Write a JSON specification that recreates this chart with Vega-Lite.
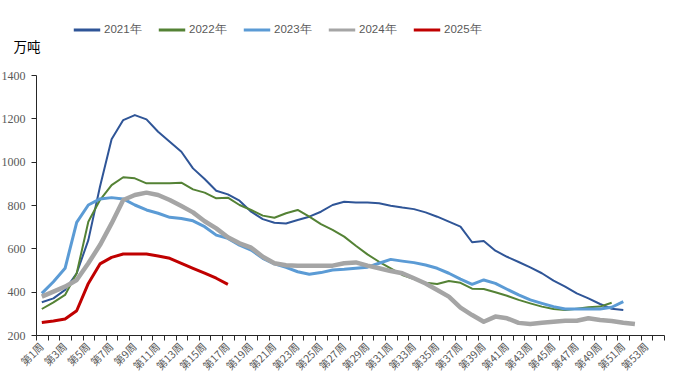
{
  "$schema": "https://vega.github.io/schema/vega-lite/v6.json",
  "width": 628,
  "height": 260,
  "autosize": {"type": "none"},
  "padding": {"left": 36, "top": 75, "right": 14, "bottom": 50},
  "background": "white",
  "data": {"values": [
    {"w":"第1周","2021年":351,"2022年":320,"2023年":392,"2024年":377,"2025年":258},
    {"w":"第2周","2021年":369,"2022年":351,"2023年":446,"2024年":400,"2025年":265},
    {"w":"第3周","2021年":408,"2022年":385,"2023年":508,"2024年":423,"2025年":274},
    {"w":"第4周","2021年":485,"2022年":485,"2023年":720,"2024年":454,"2025年":312},
    {"w":"第5周","2021年":638,"2022年":723,"2023年":800,"2024年":531,"2025年":438},
    {"w":"第6周","2021年":884,"2022年":823,"2023年":828,"2024年":615,"2025年":528},
    {"w":"第7周","2021年":1103,"2022年":892,"2023年":834,"2024年":715,"2025年":558},
    {"w":"第8周","2021年":1192,"2022年":928,"2023年":828,"2024年":823,"2025年":574},
    {"w":"第9周","2021年":1215,"2022年":923,"2023年":800,"2024年":846,"2025年":574},
    {"w":"第10周","2021年":1195,"2022年":900,"2023年":777,"2024年":857,"2025年":574},
    {"w":"第11周","2021年":1138,"2022年":900,"2023年":762,"2024年":846,"2025年":565},
    {"w":"第12周","2021年":1092,"2022年":900,"2023年":743,"2024年":823,"2025年":554},
    {"w":"第13周","2021年":1046,"2022年":903,"2023年":738,"2024年":795,"2025年":531},
    {"w":"第14周","2021年":969,"2022年":872,"2023年":727,"2024年":766,"2025年":508},
    {"w":"第15周","2021年":920,"2022年":857,"2023年":700,"2024年":725,"2025年":486},
    {"w":"第16周","2021年":866,"2022年":831,"2023年":661,"2024年":692,"2025年":462},
    {"w":"第17周","2021年":849,"2022年":834,"2023年":646,"2024年":651,"2025年":434},
    {"w":"第18周","2021年":820,"2022年":800,"2023年":615,"2024年":623},
    {"w":"第19周","2021年":769,"2022年":777,"2023年":592,"2024年":603},
    {"w":"第20周","2021年":735,"2022年":751,"2023年":554,"2024年":561},
    {"w":"第21周","2021年":718,"2022年":741,"2023年":528,"2024年":531},
    {"w":"第22周","2021年":715,"2022年":762,"2023年":512,"2024年":522},
    {"w":"第23周","2021年":731,"2022年":777,"2023年":492,"2024年":520},
    {"w":"第24周","2021年":746,"2022年":746,"2023年":480,"2024年":520},
    {"w":"第25周","2021年":769,"2022年":712,"2023年":488,"2024年":520},
    {"w":"第26周","2021年":800,"2022年":685,"2023年":500,"2024年":520},
    {"w":"第27周","2021年":815,"2022年":654,"2023年":503,"2024年":531},
    {"w":"第28周","2021年":812,"2022年":612,"2023年":508,"2024年":535},
    {"w":"第29周","2021年":811,"2022年":572,"2023年":513,"2024年":520},
    {"w":"第30周","2021年":808,"2022年":538,"2023年":531,"2024年":508},
    {"w":"第31周","2021年":797,"2022年":508,"2023年":549,"2024年":495},
    {"w":"第32周","2021年":788,"2022年":477,"2023年":541,"2024年":485},
    {"w":"第33周","2021年":781,"2022年":458,"2023年":534,"2024年":462},
    {"w":"第34周","2021年":766,"2022年":441,"2023年":523,"2024年":438},
    {"w":"第35周","2021年":746,"2022年":435,"2023年":508,"2024年":408},
    {"w":"第36周","2021年":723,"2022年":449,"2023年":485,"2024年":377},
    {"w":"第37周","2021年":700,"2022年":441,"2023年":458,"2024年":326},
    {"w":"第38周","2021年":628,"2022年":414,"2023年":434,"2024年":292},
    {"w":"第39周","2021年":634,"2022年":412,"2023年":454,"2024年":261},
    {"w":"第40周","2021年":589,"2022年":397,"2023年":438,"2024年":285},
    {"w":"第41周","2021年":561,"2022年":381,"2023年":411,"2024年":277},
    {"w":"第42周","2021年":537,"2022年":362,"2023年":385,"2024年":256},
    {"w":"第43周","2021年":512,"2022年":346,"2023年":362,"2024年":251},
    {"w":"第44周","2021年":485,"2022年":331,"2023年":346,"2024年":257},
    {"w":"第45周","2021年":451,"2022年":320,"2023年":331,"2024年":261},
    {"w":"第46周","2021年":423,"2022年":315,"2023年":320,"2024年":266},
    {"w":"第47周","2021年":392,"2022年":321,"2023年":320,"2024年":266},
    {"w":"第48周","2021年":369,"2022年":328,"2023年":320,"2024年":277},
    {"w":"第49周","2021年":343,"2022年":331,"2023年":320,"2024年":269},
    {"w":"第50周","2021年":321,"2022年":349,"2023年":328,"2024年":265},
    {"w":"第51周","2021年":315,"2023年":354,"2024年":257},
    {"w":"第52周","2024年":251}
  ]},
  "transform": [
    {"fold": ["2021年","2022年","2023年","2024年","2025年"], "as": ["year","v"]},
    {"filter": "isValid(datum.v)"}
  ],
  "encoding": {
    "x": {
      "field": "w", "type": "ordinal", "sort": null,
      "scale": {"domain": ["第1周","第2周","第3周","第4周","第5周","第6周","第7周","第8周","第9周","第10周","第11周","第12周","第13周","第14周","第15周","第16周","第17周","第18周","第19周","第20周","第21周","第22周","第23周","第24周","第25周","第26周","第27周","第28周","第29周","第30周","第31周","第32周","第33周","第34周","第35周","第36周","第37周","第38周","第39周","第40周","第41周","第42周","第43周","第44周","第45周","第46周","第47周","第48周","第49周","第50周","第51周","第52周","第53周","第54周"], "paddingInner": 0, "paddingOuter": 0},
      "axis": {
        "title": null,
        "tickBand": "extent",
        "labelAngle": -45,
        "labelAlign": "right",
        "labelBaseline": "middle",
        "labelExpr": "parseInt(replace(replace(datum.value,'第',''),'周','')) % 2 == 1 ? datum.label : ''",
        "labelFont": "Noto Sans CJK SC",
        "labelFontSize": 10.5,
        "labelColor": "#595959",
        "labelPadding": 5,
        "labelOverlap": false,
        "labelBound": false,
        "domainColor": "#262626",
        "tickColor": "#262626",
        "tickSize": 5,
        "grid": false
      }
    },
    "y": {
      "field": "v", "type": "quantitative",
      "scale": {"domain": [200, 1400], "nice": false, "zero": false},
      "axis": {
        "values": [200,400,600,800,1000,1200,1400],
        "format": "d",
        "title": "万吨",
        "titleAngle": 0,
        "titleX": -23,
        "titleY": -24,
        "titleAlign": "left",
        "titleBaseline": "alphabetic",
        "titleFont": "Noto Sans CJK SC",
        "titleFontSize": 13.5,
        "titleFontWeight": "normal",
        "titleColor": "#000000",
        "labelFont": "Liberation Serif",
        "labelFontSize": 12,
        "labelColor": "#595959",
        "labelPadding": 6,
        "domainColor": "#262626",
        "tickColor": "#262626",
        "tickSize": 5,
        "grid": false
      }
    },
    "color": {
      "field": "year", "type": "nominal",
      "scale": {"domain": ["2021年","2022年","2023年","2024年","2025年"], "range": ["#2F5597","#548235","#5B9BD5","#A5A5A5","#C00000"]},
      "legend": {
        "title": null,
        "orient": "none",
        "legendX": 36,
        "legendY": -60,
        "direction": "horizontal",
        "symbolType": "stroke",
        "symbolSize": 700,
        "symbolStrokeWidth": 3,
        "labelFont": "Liberation Sans",
        "labelFontSize": 11.5,
        "labelColor": "#595959",
        "labelOffset": 2,
        "columnPadding": 10
      }
    }
  },
  "layer": [
    {"transform": [{"filter": "datum.year == '2021年'"}], "mark": {"type": "line", "strokeWidth": 2, "strokeJoin": "round"}},
    {"transform": [{"filter": "datum.year == '2022年'"}], "mark": {"type": "line", "strokeWidth": 2, "strokeJoin": "round"}},
    {"transform": [{"filter": "datum.year == '2023年'"}], "mark": {"type": "line", "strokeWidth": 3, "strokeJoin": "round"}},
    {"transform": [{"filter": "datum.year == '2024年'"}], "mark": {"type": "line", "strokeWidth": 4.5, "strokeJoin": "round"}},
    {"transform": [{"filter": "datum.year == '2025年'"}], "mark": {"type": "line", "strokeWidth": 3, "strokeJoin": "round"}}
  ],
  "config": {"view": {"stroke": null}}
}
